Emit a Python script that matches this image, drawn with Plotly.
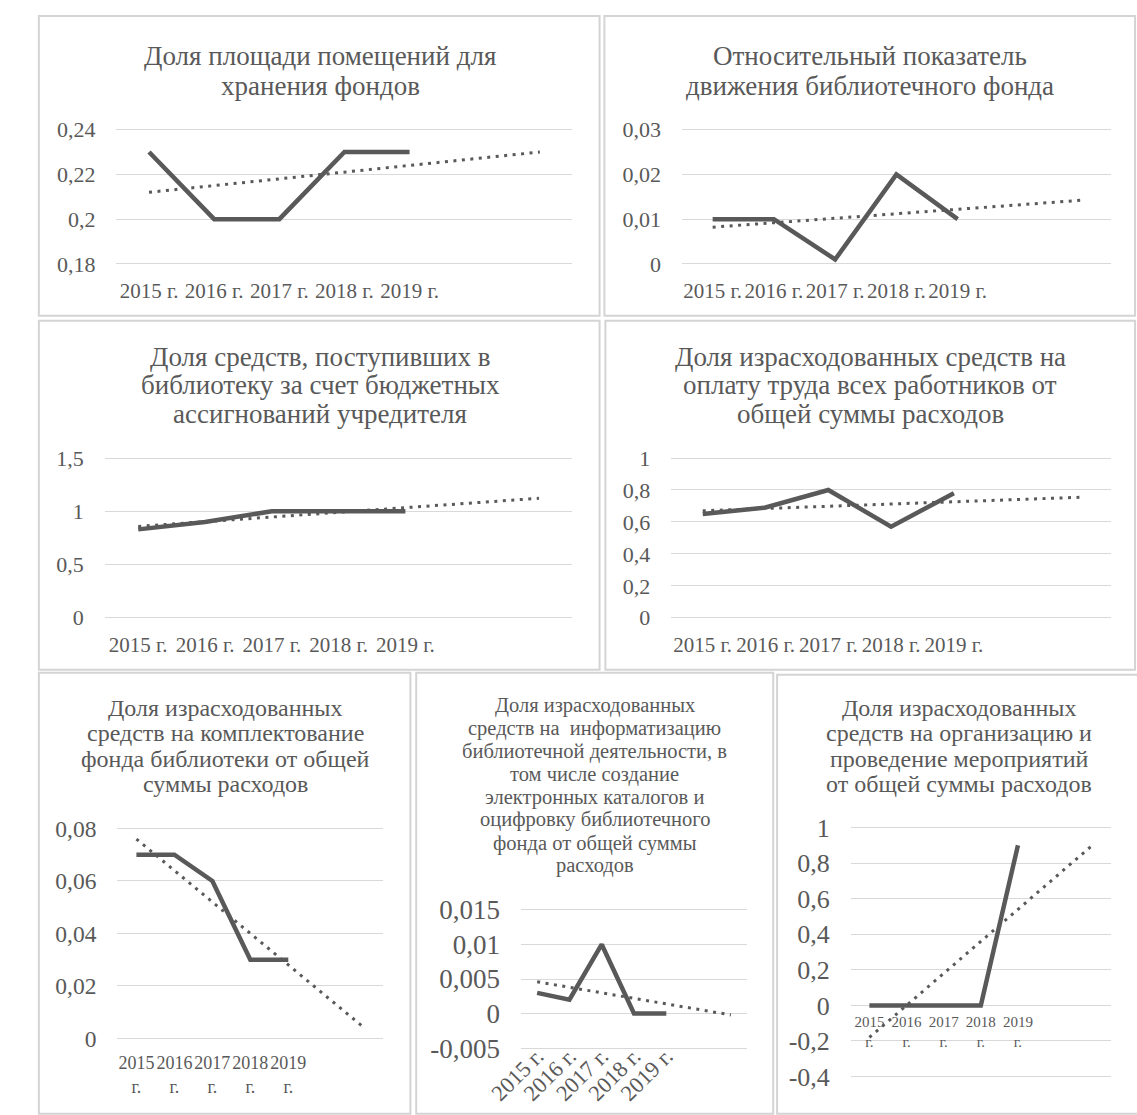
import numpy as np
import plotly.graph_objects as go

W, H = 1137, 1115

# ---- data -------------------------------------------------------------
years = ["2015 г.", "2016 г.", "2017 г.", "2018 г.", "2019 г."]

area_share = [0.23, 0.20, 0.20, 0.23, 0.23]
fund_movement = [0.01, 0.01, 0.001, 0.02, 0.01]
budget_share = [0.83, 0.90, 1.00, 1.00, 1.00]
salary_share = [0.65, 0.69, 0.80, 0.57, 0.78]
acquisition_share = [0.07, 0.07, 0.06, 0.03, 0.03]
it_share = [0.003, 0.002, 0.010, 0.0, 0.0]
events_share = [0.0, 0.0, 0.0, 0.0, 0.90]

ticks_area = [0.18, 0.20, 0.22, 0.24]
labels_area = ["0,18", "0,2", "0,22", "0,24"]
ticks_movement = [0, 0.01, 0.02, 0.03]
labels_movement = ["0", "0,01", "0,02", "0,03"]
ticks_budget = [0, 0.5, 1.0, 1.5]
labels_budget = ["0", "0,5", "1", "1,5"]
ticks_salary = [0, 0.2, 0.4, 0.6, 0.8, 1.0]
labels_salary = ["0", "0,2", "0,4", "0,6", "0,8", "1"]
ticks_acq = [0, 0.02, 0.04, 0.06, 0.08]
labels_acq = ["0", "0,02", "0,04", "0,06", "0,08"]
ticks_it = [-0.005, 0, 0.005, 0.01, 0.015]
labels_it = ["-0,005", "0", "0,005", "0,01", "0,015"]
ticks_events = [-0.4, -0.2, 0, 0.2, 0.4, 0.6, 0.8, 1.0]
labels_events = ["-0,4", "-0,2", "0", "0,2", "0,4", "0,6", "0,8", "1"]

FORECAST = 2  # linear trend extended two periods forward

TEXT = "#595959"
GRID = "#d9d9d9"
FONT = "Liberation Serif"

wrapped = ["<br>".join(y.split(" ")) for y in years]

# ---- panel layout (pixel boxes) ----------------------------------------
panels = [
    dict(values=area_share, ticks=ticks_area, labels=labels_area,
         title=["Доля площади помещений для", "хранения фондов"],
         box=(5, 5, 583, 311), grid=(85, 121, 555, 258), title_x=295,
         title_y=[46, 76], tsize=27, ysize=22, xsize=21, xlabels=years, angle=0,
         xstand=8),
    dict(values=fund_movement, ticks=ticks_movement, labels=labels_movement,
         title=["Относительный показатель", "движения библиотечного фонда"],
         box=(588, 5, 1135, 311), grid=(668, 121, 1110, 258), title_x=862,
         title_y=[46, 76], tsize=27, ysize=22, xsize=21, xlabels=years, angle=0,
         xstand=8),
    dict(values=budget_share, ticks=ticks_budget, labels=labels_budget,
         title=["Доля средств, поступивших в", "библиотеку за счет бюджетных",
                "ассигнований учредителя"],
         box=(5, 316, 583, 672), grid=(73, 456, 555, 619), title_x=295,
         title_y=[353, 382, 411], tsize=27, ysize=22, xsize=21, xlabels=years, angle=0,
         xstand=8),
    dict(values=salary_share, ticks=ticks_salary, labels=labels_salary,
         title=["Доля израсходованных средств на", "оплату труда всех работников от",
                "общей суммы расходов"],
         box=(589, 316, 1135, 672), grid=(657, 456, 1110, 619), title_x=862,
         title_y=[353, 382, 411], tsize=27, ysize=22, xsize=21, xlabels=years, angle=0,
         xstand=8),
    dict(values=acquisition_share, ticks=ticks_acq, labels=labels_acq,
         title=["Доля израсходованных", "средств на комплектование",
                "фонда библиотеки от общей", "суммы расходов"],
         box=(5, 675, 388, 1125), grid=(86, 834, 360, 1048), title_x=197,
         title_y=[711, 737, 763, 789], tsize=24, ysize=23.5, xsize=18,
         xlabels=wrapped, angle=0, xstand=8),
    dict(values=it_share, ticks=ticks_it, labels=labels_it,
         title=["Доля израсходованных", "средств на  информатизацию",
                "библиотечной деятельности, в", "том числе создание",
                "электронных каталогов и", "оцифровку библиотечного",
                "фонда от общей суммы", "расходов"],
         box=(394, 675, 762, 1125), grid=(502, 917, 735, 1058), title_x=578,
         title_y=[708, 732, 755, 779, 802, 825, 849, 872], tsize=20.5, ysize=27,
         xsize=22.5, xlabels=years, angle=-45, at_zero=True, xstand=24),
    dict(values=events_share, ticks=ticks_events, labels=labels_events,
         title=["Доля израсходованных", "средств на организацию и",
                "проведение мероприятий", "от общей суммы расходов"],
         box=(766, 677, 1145, 1125), grid=(842, 833, 1110, 1087), title_x=953,
         title_y=[711, 737, 763, 789], tsize=24, ysize=26, xsize=15,
         xlabels=wrapped, angle=0, at_zero=True, xstand=6),
]


def px(x):
    return x / W


def py(y):
    return 1 - y / H


fig = go.Figure()
shapes = []
annotations = []
PAD = 4  # px of breathing room so edge gridlines are not clipped

for i, p in enumerate(panels, start=1):
    sfx = "" if i == 1 else str(i)
    xa, ya = "x" + sfx, "y" + sfx
    gx0, gy0, gx1, gy1 = p["grid"]
    ymin, ymax = min(p["ticks"]), max(p["ticks"])
    per_px = (ymax - ymin) / (gy1 - gy0)

    xs = np.arange(1, len(p["values"]) + 1)
    coef = np.polyfit(xs, p["values"], 1)
    xt = np.array([1, len(xs) + FORECAST])
    yt = np.polyval(coef, xt)

    fig.add_trace(go.Scatter(
        x=xt, y=yt, mode="lines", xaxis=xa, yaxis=ya, hoverinfo="skip",
        line=dict(color=TEXT, width=3, dash="3px,5.5px")))
    fig.add_trace(go.Scatter(
        x=xs, y=p["values"], mode="lines", xaxis=xa, yaxis=ya,
        line=dict(color=TEXT, width=4.5)))

    xaxis = dict(domain=[px(gx0), px(gx1)], range=[0.5, 7.5],
                 tickvals=list(xs), ticktext=p["xlabels"], tickangle=p["angle"],
                 showgrid=False, zeroline=False, showline=False, ticks="",
                 ticklabelstandoff=p["xstand"],
                 tickfont=dict(family=FONT, size=p["xsize"], color=TEXT),
                 anchor=ya, fixedrange=True)
    if p.get("at_zero"):
        y0px = gy0 + (ymax - 0) / per_px
        xaxis["anchor"] = "free"
        xaxis["position"] = py(y0px)
    fig.layout["xaxis" + sfx] = xaxis
    fig.layout["yaxis" + sfx] = dict(
        domain=[py(gy1 + PAD), py(gy0 - PAD)],
        range=[ymin - PAD * per_px, ymax + PAD * per_px],
        tickvals=p["ticks"], ticktext=p["labels"],
        showgrid=True, gridcolor=GRID, gridwidth=1, zeroline=False,
        showline=False, ticks="", anchor=xa, ticklabelstandoff=20,
        tickfont=dict(family=FONT, size=p["ysize"], color=TEXT), fixedrange=True)

    bx0, by0, bx1, by1 = p["box"]
    shapes.append(dict(type="rect", xref="paper", yref="paper",
                       x0=px(bx0), x1=px(bx1), y0=py(by1), y1=py(by0),
                       line=dict(color="#d4d4d4", width=2), layer="below"))
    for line, ty in zip(p["title"], p["title_y"]):
        annotations.append(dict(text=line, x=px(p["title_x"]), y=py(ty),
                                xref="paper", yref="paper", showarrow=False,
                                xanchor="center", yanchor="middle",
                                font=dict(family=FONT, size=p["tsize"], color=TEXT)))

fig.update_layout(width=W, height=H, margin=dict(l=0, r=0, t=0, b=0),
                  paper_bgcolor="white", plot_bgcolor="white", showlegend=False,
                  shapes=shapes, annotations=annotations)

fig.write_html("out.html")
